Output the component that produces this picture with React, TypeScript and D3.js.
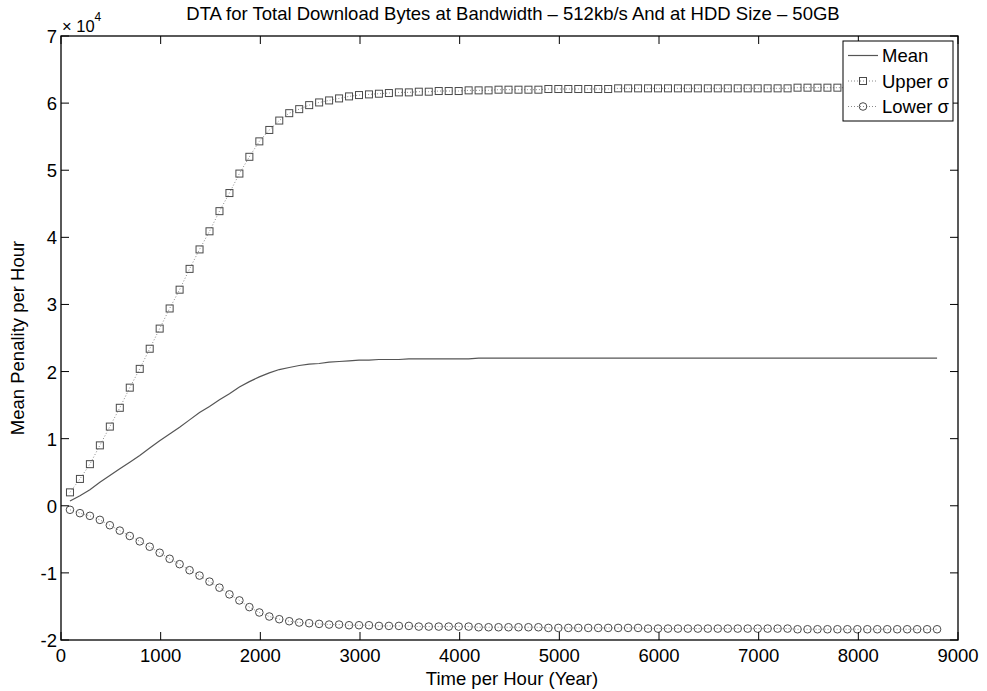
import React from 'react';
import * as d3 from 'd3';

// sample times (hours), one marker every 100 h
const hours = d3.range(90, 8800, 100);

// values in units of 1e4
const meanVals = [
  0.07, 0.15, 0.24, 0.35, 0.45, 0.55, 0.65, 0.75, 0.86, 0.97,
  1.07, 1.17, 1.28, 1.39, 1.48, 1.58, 1.67, 1.77, 1.85, 1.92,
  1.98, 2.03, 2.06, 2.09, 2.11, 2.12, 2.14, 2.15, 2.16, 2.17,
  2.17, 2.18, 2.18, 2.18, 2.19, 2.19, 2.19, 2.19, 2.19, 2.19,
  2.19, 2.2, 2.2, 2.2, 2.2, 2.2, 2.2, 2.2, 2.2, 2.2,
  2.2, 2.2, 2.2, 2.2, 2.2, 2.2, 2.2, 2.2, 2.2, 2.2,
  2.2, 2.2, 2.2, 2.2, 2.2, 2.2, 2.2, 2.2, 2.2, 2.2,
  2.2, 2.2, 2.2, 2.2, 2.2, 2.2, 2.2, 2.2, 2.2, 2.2,
  2.2, 2.2, 2.2, 2.2, 2.2, 2.2, 2.2, 2.2,
];

const upperVals = [
  0.2, 0.4, 0.62, 0.9, 1.18, 1.46, 1.76, 2.04, 2.34, 2.64,
  2.94, 3.22, 3.53, 3.82, 4.09, 4.39, 4.66, 4.95, 5.2, 5.43,
  5.6, 5.74, 5.85, 5.91, 5.97, 6.01, 6.04, 6.07, 6.1, 6.12,
  6.13, 6.14, 6.15, 6.16, 6.16, 6.17, 6.17, 6.18, 6.18, 6.18,
  6.19, 6.19, 6.19, 6.2, 6.2, 6.2, 6.2, 6.2, 6.21, 6.21,
  6.21, 6.21, 6.21, 6.21, 6.21, 6.22, 6.22, 6.22, 6.22, 6.22,
  6.22, 6.22, 6.22, 6.22, 6.22, 6.22, 6.22, 6.22, 6.22, 6.22,
  6.22, 6.22, 6.22, 6.23, 6.23, 6.23, 6.23, 6.23, 6.23, 6.23,
  6.23, 6.23, 6.23, 6.23, 6.23, 6.23, 6.23, 6.23,
];

const lowerVals = [
  -0.06, -0.11, -0.15, -0.21, -0.29, -0.37, -0.45, -0.53, -0.61, -0.7,
  -0.79, -0.87, -0.96, -1.04, -1.13, -1.22, -1.32, -1.41, -1.51, -1.59,
  -1.65, -1.69, -1.72, -1.74, -1.75, -1.76, -1.77, -1.77, -1.78, -1.78,
  -1.78, -1.79, -1.79, -1.79, -1.79, -1.8, -1.8, -1.8, -1.8, -1.8,
  -1.8, -1.81, -1.81, -1.81, -1.81, -1.81, -1.81, -1.81, -1.82, -1.82,
  -1.82, -1.82, -1.82, -1.82, -1.82, -1.82, -1.82, -1.82, -1.83, -1.83,
  -1.83, -1.83, -1.83, -1.83, -1.83, -1.83, -1.83, -1.83, -1.83, -1.83,
  -1.83, -1.83, -1.83, -1.84, -1.84, -1.84, -1.84, -1.84, -1.84, -1.84,
  -1.84, -1.84, -1.84, -1.84, -1.84, -1.84, -1.84, -1.84,
];

const xTicks = [0, 1000, 2000, 3000, 4000, 5000, 6000, 7000, 8000, 9000];
const yTicks = [-2, -1, 0, 1, 2, 3, 4, 5, 6, 7];

const W = 987;
const H = 691;
const m = { left: 61, right: 958, top: 36, bottom: 640 };
const font = 'Arial, "Liberation Sans", Helvetica, sans-serif';
const fs = 18.5;

export default function App() {
  const x = d3.scaleLinear().domain([0, 9000]).range([m.left, m.right]);
  const y = d3.scaleLinear().domain([-2, 7]).range([m.bottom, m.top]);

  const line = d3.line<number>()
    .x((_, i) => x(hours[i]))
    .y(d => y(d));

  const tickLen = 8;
  const markerColor = '#4a4a4a';
  const dotLine = '#8a8a8a';
  const sq = 7;

  return (
    <svg width={W} height={H} style={{ position: 'absolute', left: 0, top: 0, background: '#fff' }} fontFamily={font}>
      {/* title */}
      <text x={513} y={20} textAnchor="middle" fontSize={fs} fill="#000">
        DTA for Total Download Bytes at Bandwidth – 512kb/s And at HDD Size – 50GB
      </text>

      {/* series */}
      <path d={line(meanVals) || ''} fill="none" stroke="#555" strokeWidth={1.2} />
      <path d={line(upperVals) || ''} fill="none" stroke={dotLine} strokeWidth={1} strokeDasharray="1,2" />
      <path d={line(lowerVals) || ''} fill="none" stroke={dotLine} strokeWidth={1} strokeDasharray="1,2" />
      {upperVals.map((v, i) => (
        <rect key={'u' + i} x={x(hours[i]) - sq / 2} y={y(v) - sq / 2} width={sq} height={sq}
          fill="none" stroke={markerColor} strokeWidth={1} />
      ))}
      {lowerVals.map((v, i) => (
        <circle key={'l' + i} cx={x(hours[i])} cy={y(v)} r={3.8}
          fill="none" stroke={markerColor} strokeWidth={1} />
      ))}

      {/* axes box */}
      <rect x={m.left} y={m.top} width={m.right - m.left} height={m.bottom - m.top}
        fill="none" stroke="#000" strokeWidth={1.3} />
      {xTicks.map(t => (
        <g key={'xt' + t}>
          <line x1={x(t)} x2={x(t)} y1={m.bottom} y2={m.bottom - tickLen} stroke="#000" />
          <line x1={x(t)} x2={x(t)} y1={m.top} y2={m.top + tickLen} stroke="#000" />
          <text x={x(t)} y={662} textAnchor="middle" fontSize={fs} fill="#000">{t}</text>
        </g>
      ))}
      {yTicks.map(t => (
        <g key={'yt' + t}>
          <line x1={m.left} x2={m.left + tickLen} y1={y(t)} y2={y(t)} stroke="#000" />
          <line x1={m.right} x2={m.right - tickLen} y1={y(t)} y2={y(t)} stroke="#000" />
          <text x={57} y={y(t) + 7} textAnchor="end" fontSize={fs} fill="#000">{t}</text>
        </g>
      ))}
      <text x={62} y={32} fontSize={fs - 2} fill="#000">
        × 10<tspan dy={-11} fontSize={12}>4</tspan>
      </text>

      {/* axis labels */}
      <text x={512} y={685} textAnchor="middle" fontSize={fs} fill="#000">Time per Hour (Year)</text>
      <text transform={`translate(24,${(m.top + m.bottom) / 2}) rotate(-90)`} textAnchor="middle" fontSize={fs} fill="#000">
        Mean Penality per Hour
      </text>

      {/* legend */}
      <g>
        <rect x={843} y={41} width={110} height={80} fill="#fff" stroke="#000" strokeWidth={1} />
        <line x1={848} x2={878} y1={55.5} y2={55.5} stroke="#555" strokeWidth={1.2} />
        <text x={882} y={62} fontSize={fs} fill="#000">Mean</text>
        <line x1={848} x2={878} y1={81} y2={81} stroke={dotLine} strokeDasharray="1,2" />
        <rect x={863 - sq / 2} y={81 - sq / 2} width={sq} height={sq} fill="none" stroke={markerColor} />
        <text x={882} y={87.5} fontSize={fs} fill="#000">Upper σ</text>
        <line x1={848} x2={878} y1={106.5} y2={106.5} stroke={dotLine} strokeDasharray="1,2" />
        <circle cx={863} cy={106.5} r={3.8} fill="none" stroke={markerColor} />
        <text x={882} y={113} fontSize={fs} fill="#000">Lower σ</text>
      </g>
    </svg>
  );
}
